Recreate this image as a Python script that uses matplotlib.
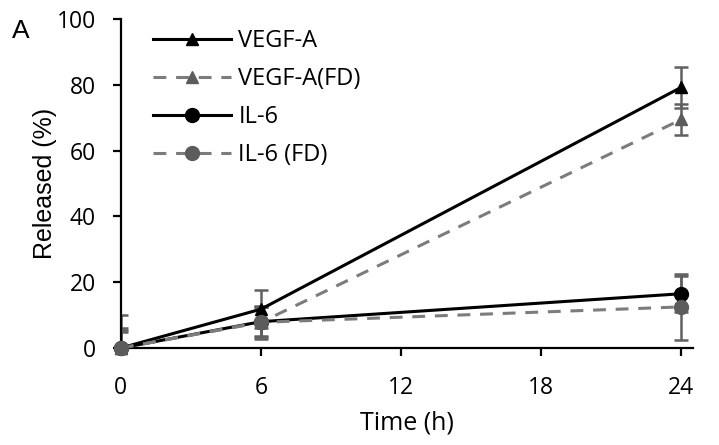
import matplotlib
matplotlib.use("Agg")
import matplotlib.pyplot as plt

# data
time_h = [0, 6, 24]
vegf = [0, 11.8, 79.3]
vegf_err = [6, 5.7, 6.2]
vegf_fd = [0, 7.8, 69.5]
vegf_fd_err = [5, 5, 4.7]
il6 = [0, 8, 16.5]
il6_err = [10, 4.5, 5.5]
il6_fd = [0, 7.8, 12.5]
il6_fd_err = [5.5, 4.6, 10]

xticks = [0, 6, 12, 18, 24]
yticks = [0, 20, 40, 60, 80, 100]

tick_font = "Open Sans"
err_color = "#606060"
gray_line = "#7c7c7c"
gray_mark = "#5c5c5c"

fig = plt.figure(figsize=(7.19, 4.45), dpi=100)
ax = fig.add_axes([0.168, 0.218, 0.796, 0.739])

# error bars first (all grey, as in the original)
for y, e in [(vegf, vegf_err), (vegf_fd, vegf_fd_err), (il6, il6_err), (il6_fd, il6_fd_err)]:
    ax.errorbar(time_h, y, yerr=e, fmt="none", ecolor=err_color, elinewidth=1.8,
                capsize=5, capthick=1.8, zorder=2)

# grey (FD) series sit on top of the black ones
ax.plot(time_h, vegf, "-^", color="black", lw=2.2, ms=9, label="VEGF-A", zorder=3, clip_on=False)
ax.plot(time_h, vegf_fd, "--^", color=gray_line, mfc=gray_mark, mec=gray_mark, lw=2.2, ms=9,
        dashes=(4.2, 3.2), label="VEGF-A(FD)", zorder=4, clip_on=False)
ax.plot(time_h, il6, "-o", color="black", lw=2.2, ms=10, label="IL-6", zorder=3, clip_on=False)
ax.plot(time_h, il6_fd, "--o", color=gray_line, mfc=gray_mark, mec=gray_mark, lw=2.2, ms=10,
        dashes=(4.2, 3.2), label="IL-6 (FD)", zorder=4, clip_on=False)

ax.set_xlim(0, 24.5)
ax.set_ylim(0, 100)
ax.set_xticks(xticks)
ax.set_yticks(yticks)
for s in ["top", "right"]:
    ax.spines[s].set_visible(False)
for s in ["left", "bottom"]:
    ax.spines[s].set_linewidth(1.6)
ax.tick_params(direction="out", length=6, width=1.6, labelsize=16.5)
ax.tick_params(axis="y", pad=12)
ax.tick_params(axis="x", pad=14)
for lab in ax.get_xticklabels() + ax.get_yticklabels():
    lab.set_fontfamily(tick_font)

ax.set_xlabel("Time (h)", fontsize=18, fontfamily=tick_font, labelpad=8)
ax.set_ylabel("Released (%)", fontsize=18, fontfamily="Liberation Sans", labelpad=0)

fig.text(0.016, 0.914, "A", fontsize=19, fontfamily="Liberation Sans")

leg = ax.legend(loc="upper left", bbox_to_anchor=(0.02, 1.035), frameon=False,
                handlelength=3.3, handletextpad=0.3, labelspacing=0.6,
                prop={"family": tick_font, "size": 17})

fig.savefig("out.png", dpi=100)
